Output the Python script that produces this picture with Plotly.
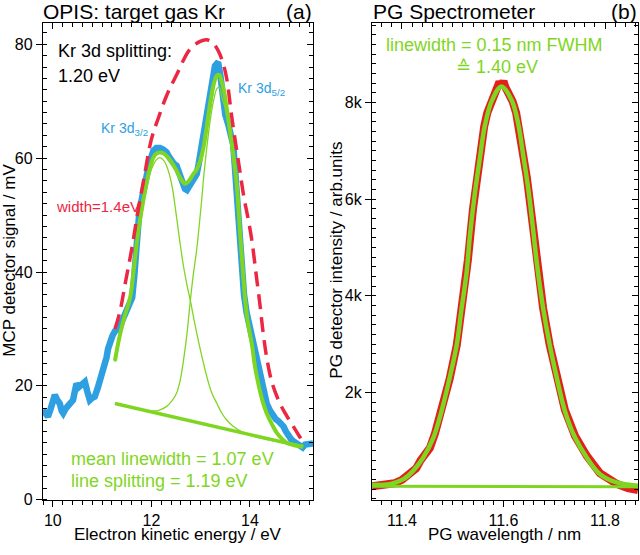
import plotly.graph_objects as go

# ---------------- Panel (a): OPIS, target gas Kr ----------------
energy_data = [9.80, 9.85, 9.90, 9.95, 10.00, 10.04, 10.09, 10.14, 10.18, 10.21, 10.26, 10.31, 10.36,
               10.41, 10.45, 10.48, 10.53, 10.58, 10.62, 10.65, 10.70, 10.75, 10.80, 10.85, 10.91, 10.96,
               11.02, 11.09, 11.12, 11.16, 11.21, 11.26, 11.31, 11.36, 11.41, 11.46, 11.52, 11.57, 11.61,
               11.65, 11.68, 11.70, 11.75, 11.80, 11.85, 11.90, 11.94, 11.99, 12.04, 12.10, 12.17, 12.24,
               12.31, 12.36, 12.41, 12.46, 12.51, 12.55, 12.58, 12.63, 12.68, 12.72, 12.77, 12.83, 12.88,
               12.92, 12.96, 12.99, 13.05, 13.12, 13.17, 13.23, 13.29, 13.33, 13.36, 13.40, 13.43, 13.47,
               13.50, 13.56, 13.61, 13.66, 13.69, 13.72, 13.76, 13.80, 13.83, 13.88, 13.93, 14.00, 14.07,
               14.14, 14.19, 14.24, 14.29, 14.34, 14.41, 14.48, 14.53, 14.58, 14.63, 14.68, 14.73, 14.78,
               14.83, 14.88, 14.95, 15.02, 15.07, 15.12, 15.17, 15.22, 15.28]
mcp_signal = [15.8, 15.0, 14.6, 15.8, 17.6, 18.4, 17.5, 16.9, 15.6, 15.2, 16.0, 16.6, 16.9,
              17.5, 19.2, 20.4, 19.8, 20.1, 20.3, 20.7, 19.0, 17.5, 17.9, 18.1, 19.6, 21.0,
              22.7, 25.0, 26.5, 27.9, 28.8, 29.6, 29.8, 30.2, 31.5, 32.5, 33.4, 34.2, 35.5,
              39.0, 43.0, 46.9, 50.0, 52.6, 55.0, 57.2, 58.4, 60.0, 61.3, 61.8, 61.8, 61.5,
              61.0, 60.2, 59.5, 59.0, 58.7, 57.8, 57.2, 55.5, 54.6, 54.4, 55.0, 56.0, 56.8,
              57.2, 59.0, 60.7, 64.0, 68.2, 70.8, 73.3, 76.2, 76.6, 76.5, 74.5, 72.2, 69.5,
              67.6, 65.9, 64.3, 62.4, 59.0, 55.0, 50.0, 45.0, 41.0, 36.0, 33.0, 30.2, 27.0,
              24.4, 22.0, 19.8, 18.0, 16.9, 15.6, 14.6, 14.1, 13.8, 13.4, 12.9, 12.0, 11.2,
              10.7, 10.3, 9.8, 9.4, 9.2, 9.7, 9.8, 9.7, 9.9]

energy_fit = [11.26, 11.35, 11.45, 11.57, 11.65, 11.73, 11.82, 11.90, 11.97, 12.04, 12.10, 12.17, 12.25,
              12.34, 12.43, 12.51, 12.60, 12.68, 12.76, 12.85, 12.92, 12.99, 13.06, 13.12, 13.19, 13.26,
              13.33, 13.38, 13.43, 13.48, 13.53, 13.60, 13.66, 13.73, 13.80, 13.85, 13.90, 13.96, 14.04,
              14.10, 14.17, 14.25, 14.34, 14.45, 14.55, 14.65, 14.75, 14.88, 15.02, 15.08]
fit_sum = [24.4, 28.5, 32.0, 35.6, 41.0, 46.9, 51.8, 55.5, 58.2, 60.1, 60.8, 61.0, 60.8,
           60.1, 59.0, 57.8, 56.3, 55.5, 56.0, 57.2, 58.0, 59.5, 62.0, 65.3, 69.5, 72.8,
           74.5, 74.6, 73.3, 71.5, 68.7, 64.5, 60.7, 55.5, 46.9, 41.0, 35.4, 31.0, 27.3,
           23.5, 20.4, 17.5, 15.2, 13.2, 11.7, 10.7, 10.0, 9.6, 9.4, 9.3]

energy_c1 = [11.26, 11.45, 11.57, 11.65, 11.73, 11.82, 11.90, 11.97, 12.04, 12.10, 12.17, 12.25, 12.31,
             12.41, 12.51, 12.58, 12.65, 12.72, 12.79, 12.88, 12.99, 13.12, 13.22, 13.33, 13.43, 13.53,
             13.66, 13.80, 14.00, 14.50, 15.08]
fit_c1 = [24.2, 31.8, 35.3, 40.5, 46.5, 51.3, 54.8, 57.3, 58.8, 59.7, 60.1, 59.6, 58.6,
          55.5, 49.7, 45.2, 41.1, 37.8, 35.0, 31.0, 26.5, 21.8, 18.9, 16.9, 15.2, 14.0,
          12.9, 12.1, 11.3, 10.3, 9.3]

energy_c2 = [11.26, 11.60, 11.90, 12.04, 12.15, 12.31, 12.42, 12.51, 12.58, 12.65, 12.72, 12.79, 12.85,
             12.92, 13.02, 13.06, 13.12, 13.19, 13.26, 13.33, 13.38, 13.43, 13.48, 13.53, 13.60, 13.66,
             13.73, 13.80, 13.85, 13.90, 13.96, 14.04, 14.10, 14.17, 14.25, 14.34, 14.45, 14.55, 14.65,
             14.75, 14.88, 15.02, 15.08]
fit_c2 = [16.9, 16.2, 15.7, 15.6, 15.7, 16.4, 17.4, 18.7, 20.8, 24.4, 29.0, 35.0, 39.5,
          44.0, 52.6, 56.6, 61.5, 66.4, 70.0, 72.2, 72.4, 70.7, 69.3, 67.2, 63.5, 60.0,
          55.0, 46.6, 40.7, 35.1, 30.8, 27.1, 23.3, 20.2, 17.3, 15.0, 13.0, 11.6, 10.6,
          9.95, 9.55, 9.35, 9.3]

energy_bg = [11.26, 15.08]
fit_bg = [16.9, 9.3]

energy_env = [11.26, 11.36, 11.48, 11.60, 11.72, 11.84, 12.00, 12.14, 12.31, 12.51, 12.78, 12.99,
              13.12, 13.25, 13.36, 13.45, 13.53, 13.63, 13.72, 13.80, 13.88, 13.96, 14.04, 14.12,
              14.20, 14.27, 14.34, 14.45, 14.61, 14.75, 14.88, 15.00, 15.09]
envelope_1p4 = [30.0, 33.0, 38.5, 44.0, 50.3, 56.0, 63.3, 67.0, 71.0, 74.6, 79.1, 80.5,
                80.8, 80.2, 78.8, 76.8, 73.9, 67.3, 62.0, 57.5, 53.0, 49.5, 45.5, 40.0,
                34.5, 29.2, 25.0, 20.5, 16.9, 14.7, 12.9, 11.2, 10.0]

# ---------------- Panel (b): PG spectrometer ----------------
wl_data = [11.341, 11.355, 11.37, 11.385, 11.40, 11.415, 11.428, 11.437, 11.441, 11.447, 11.455, 11.465,
           11.478, 11.494, 11.508, 11.52, 11.53, 11.54, 11.55, 11.556, 11.562, 11.568, 11.575, 11.582,
           11.588, 11.592, 11.596, 11.60, 11.604, 11.61, 11.618, 11.625, 11.632, 11.637, 11.641, 11.646,
           11.652, 11.66, 11.668, 11.678, 11.691, 11.705, 11.721, 11.741, 11.764, 11.79, 11.81, 11.823,
           11.845, 11.865]
pg_intensity = [60, 70, 80, 120, 190, 300, 430, 600, 660, 690, 850, 1150,
                1600, 2280, 2980, 3800, 4750, 5800, 6650, 7120, 7500, 7780, 8000, 8180,
                8300, 8420, 8350, 8440, 8310, 8200, 8020, 7780, 7380, 7050, 6850, 6450,
                5950, 5250, 4550, 3750, 2980, 2300, 1640, 1100, 690, 330, 180, 110,
                20, -20]

wl_fit = [11.341, 11.376, 11.403, 11.422, 11.442, 11.462, 11.478, 11.494, 11.508, 11.517, 11.527, 11.534,
          11.544, 11.554, 11.563, 11.577, 11.596, 11.616, 11.629, 11.639, 11.649, 11.657, 11.666, 11.678,
          11.691, 11.705, 11.721, 11.741, 11.764, 11.79, 11.823, 11.865]
pg_fit = [88, 103, 206, 378, 653, 1066, 1615, 2303, 2990, 3700, 4450, 5250,
          6150, 6880, 7500, 8030, 8330, 8050, 7560, 6900, 6200, 5500, 4650, 3750,
          2990, 2303, 1615, 1066, 653, 309, 138, 68]

wl_bg = [11.341, 11.865]
pg_bg = [62, 48]

# ---------------- styling ----------------
W, H = 640, 555
BLUE = "#2ea0e2"
GREEN = "#7fd622"
RED_DASH = "#ec2743"
RED = "#e4201c"
FONT = "Liberation Sans, Arial, sans-serif"


def px(x):
    return x / W


def py(y):
    return 1 - y / H


fig = go.Figure()

# panel (a)
fig.add_trace(go.Scatter(x=energy_data, y=mcp_signal, mode="lines",
                         line=dict(color=BLUE, width=6.5), xaxis="x", yaxis="y"))
fig.add_trace(go.Scatter(x=energy_bg, y=fit_bg, mode="lines",
                         line=dict(color=GREEN, width=3.5), xaxis="x", yaxis="y"))
fig.add_trace(go.Scatter(x=energy_c1, y=fit_c1, mode="lines", line_shape="spline",
                         line=dict(color=GREEN, width=1.3), xaxis="x", yaxis="y"))
fig.add_trace(go.Scatter(x=energy_c2, y=fit_c2, mode="lines", line_shape="spline",
                         line=dict(color=GREEN, width=1.3), xaxis="x", yaxis="y"))
fig.add_trace(go.Scatter(x=energy_fit, y=fit_sum, mode="lines", line_shape="spline",
                         line=dict(color=GREEN, width=4), xaxis="x", yaxis="y"))
fig.add_trace(go.Scatter(x=energy_env, y=envelope_1p4, mode="lines", line_shape="spline",
                         line=dict(color=RED_DASH, width=3.5, dash="15px,8px"), xaxis="x", yaxis="y"))

# panel (b)
fig.add_trace(go.Scatter(x=wl_data, y=pg_intensity, mode="lines",
                         line=dict(color=RED, width=8), xaxis="x2", yaxis="y2"))
fig.add_trace(go.Scatter(x=wl_fit, y=pg_fit, mode="lines", line_shape="spline",
                         line=dict(color=GREEN, width=4.5), xaxis="x2", yaxis="y2"))
fig.add_trace(go.Scatter(x=wl_bg, y=pg_bg, mode="lines",
                         line=dict(color=GREEN, width=3), xaxis="x2", yaxis="y2"))

# helper traces for mirrored inside-tick axes
for xa, ya in [("x3", "y"), ("x", "y3"), ("x4", "y2"), ("x2", "y4")]:
    fig.add_trace(go.Scatter(x=[None], y=[None], mode="lines", xaxis=xa, yaxis=ya,
                             hoverinfo="skip"))

XA_DOM = [px(43), px(313)]
XB_DOM = [px(372), px(638)]
Y_DOM = [py(508), py(23)]
XA_RANGE = [9.8, 15.28]
YA_RANGE = [0, 83.8]
XB_RANGE = [11.341, 11.865]
YB_RANGE = [-220, 9650]

tickfont = dict(family=FONT, size=16, color="black")
common = dict(showgrid=False, zeroline=False, showline=True, linecolor="black",
              linewidth=1.3, mirror=True, tickcolor="black", tickwidth=1.3,
              tickfont=tickfont, fixedrange=True)

fig.update_layout(
    width=W, height=H,
    margin=dict(l=0, r=0, t=0, b=0),
    paper_bgcolor="white", plot_bgcolor="white",
    showlegend=False,
    xaxis=dict(domain=XA_DOM, range=XA_RANGE, anchor="y", ticks="outside", ticklen=6,
               tickmode="array", tickvals=[10, 12, 14], ticktext=["10", "12", "14"],
               minor=dict(tick0=10, dtick=0.2, ticks="outside", ticklen=4, tickwidth=1,
                          tickcolor="black"),
               **common),
    yaxis=dict(domain=Y_DOM, range=YA_RANGE, anchor="x", ticks="outside", ticklen=6,
               tickmode="array", tickvals=[0, 20, 40, 60, 80],
               minor=dict(tick0=0, dtick=2, ticks="inside", ticklen=4, tickwidth=1,
                          tickcolor="black"),
               **common),
    xaxis3=dict(overlaying="x", side="top", anchor="y", range=XA_RANGE, showgrid=False,
                zeroline=False, showline=False, showticklabels=False, ticks="inside",
                ticklen=6, tickwidth=1.3, tickcolor="black", tickmode="array",
                tickvals=[10, 12, 14],
                minor=dict(tick0=10, dtick=0.2, ticks="inside", ticklen=4, tickwidth=1,
                           tickcolor="black"), fixedrange=True),
    yaxis3=dict(overlaying="y", side="right", anchor="x", range=YA_RANGE, showgrid=False,
                zeroline=False, showline=False, showticklabels=False, ticks="inside",
                ticklen=6, tickwidth=1.3, tickcolor="black", tickmode="array",
                tickvals=[0, 20, 40, 60, 80],
                minor=dict(tick0=0, dtick=2, ticks="inside", ticklen=4, tickwidth=1,
                           tickcolor="black"), fixedrange=True),
    xaxis2=dict(domain=XB_DOM, range=XB_RANGE, anchor="y2", ticks="outside", ticklen=6,
                tickmode="array", tickvals=[11.4, 11.6, 11.8], ticktext=["11.4", "11.6", "11.8"],
                minor=dict(tick0=11.4, dtick=0.02, ticks="outside", ticklen=4, tickwidth=1,
                           tickcolor="black"),
                **common),
    yaxis2=dict(domain=Y_DOM, range=YB_RANGE, anchor="x2", ticks="outside", ticklen=6,
                tickmode="array", tickvals=[2000, 4000, 6000, 8000],
                ticktext=["2k", "4k", "6k", "8k"],
                minor=dict(tick0=0, dtick=200, ticks="inside", ticklen=4, tickwidth=1,
                           tickcolor="black"),
                **common),
    xaxis4=dict(overlaying="x2", side="top", anchor="y2", range=XB_RANGE, showgrid=False,
                zeroline=False, showline=False, showticklabels=False, ticks="inside",
                ticklen=6, tickwidth=1.3, tickcolor="black", tickmode="array",
                tickvals=[11.4, 11.6, 11.8],
                minor=dict(tick0=11.4, dtick=0.02, ticks="inside", ticklen=4, tickwidth=1,
                           tickcolor="black"), fixedrange=True),
    yaxis4=dict(overlaying="y2", side="right", anchor="x2", range=YB_RANGE, showgrid=False,
                zeroline=False, showline=False, showticklabels=False, ticks="inside",
                ticklen=6, tickwidth=1.3, tickcolor="black", tickmode="array",
                tickvals=[2000, 4000, 6000, 8000],
                minor=dict(tick0=0, dtick=200, ticks="inside", ticklen=4, tickwidth=1,
                           tickcolor="black"), fixedrange=True),
)


def note(text, x, y, size, color="black", xanchor="left", yanchor="middle", angle=0):
    fig.add_annotation(text=text, x=px(x), y=py(y), xref="paper", yref="paper",
                       xanchor=xanchor, yanchor=yanchor, showarrow=False, textangle=angle,
                       font=dict(family=FONT, size=size, color=color))


# titles
note("OPIS: target gas Kr", 41, 12, 21)
note("(a)", 314, 12, 21, xanchor="right")
note("PG Spectrometer", 371, 12, 21)
note("(b)", 639, 12, 21, xanchor="right")

# axis titles
note("Electron kinetic energy / eV", 178, 555, 17, xanchor="center", yanchor="bottom")
note("PG wavelength / nm", 504, 555, 17, xanchor="center", yanchor="bottom")
note("MCP detector signal / mV", 10, 265, 17, xanchor="center", angle=-90)
note("PG detector intensity / arb.units", 337, 265, 17, xanchor="center", angle=-90)

# panel (a) labels
note("Kr 3d splitting:", 56, 52, 18)
note("1.20 eV", 56, 77, 18)
note("Kr 3d<sub>3/2</sub>", 99, 131, 14, color=BLUE)
note("Kr 3d<sub>5/2</sub>", 236, 90, 14, color=BLUE)
note("width=1.4eV", 54, 210, 15, color=RED_DASH)
note("mean linewidth = 1.07 eV", 69, 467, 18, color=GREEN)
note("line splitting = 1.19 eV", 69, 489, 18, color=GREEN)

# panel (b) labels
note("linewidth = 0.15 nm FWHM", 494, 46, 18, color=GREEN, xanchor="center")
note("\u2259 1.40 eV", 497, 68, 18, color=GREEN, xanchor="center")

fig.write_html(
    "out.html",
    config={"displayModeBar": False, "responsive": False},
    post_script=(
        "document.documentElement.style.margin='0px';"
        "document.documentElement.style.overflow='hidden';"
        "document.body.style.margin='0px';"
        "document.body.style.overflow='hidden';"
        "var gd=document.getElementById('{plot_id}');"
        "gd.style.position='fixed';gd.style.left='0px';gd.style.top='0px';"
    ),
)
